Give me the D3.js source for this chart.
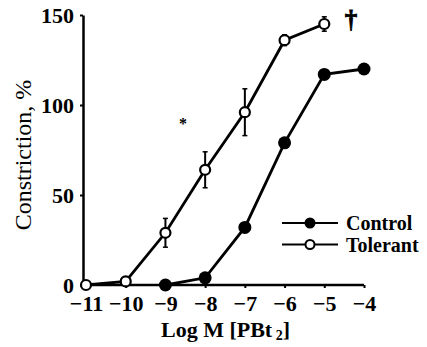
<!DOCTYPE html>
<html>
<head>
<meta charset="utf-8">
<script src="https://cdn.jsdelivr.net/npm/d3@7"></script>
<style>
  body { margin: 0; background: #fff; }
  svg { display: block; }
  text { font-family: "Liberation Serif", "DejaVu Serif", serif; fill: #000; }
</style>
</head>
<body>
<div id="chart"></div>
<script>
const logDoses = [-11, -10, -9, -8, -7, -6, -5, -4];
const controlDoses = [-9, -8, -7, -6, -5, -4];
const controlValues = [0, 4, 32, 79, 117, 120];
const tolerantDoses = [-11, -10, -9, -8, -7, -6, -5];
const tolerantValues = [0, 2, 29, 64, 96, 136, 145];
const tolerantErrors = [0, 0, 8, 10, 13, 3, 4];
const yTicks = [0, 50, 100, 150];

const width = 427, height = 347;

const svg = d3.select('#chart').append('svg')
  .attr('width', width)
  .attr('height', height);

const xScale = d3.scaleLinear().domain([-11, -4]).range([86, 364]);
const yScale = d3.scaleLinear().domain([0, 150]).range([285, 15]);
const axisX = 83;

// axes
const xAxis = d3.axisBottom(xScale)
  .tickValues(logDoses)
  .tickSizeInner(3)
  .tickSizeOuter(0)
  .tickPadding(7)
  .tickFormat(d => '\u2212' + Math.abs(d));

const gx = svg.append('g')
  .attr('transform', `translate(0, ${yScale(0)})`)
  .call(xAxis);
gx.select('.domain').attr('d', `M${axisX},0H${xScale(-4)}`).attr('stroke-width', 2.5);
gx.selectAll('.tick line').attr('stroke-width', 2);
gx.selectAll('.tick text')
  .attr('font-family', '"Liberation Serif", serif')
  .attr('font-size', 22)
  .attr('font-weight', 'bold')
  .attr('fill', '#000');

const yAxis = d3.axisLeft(yScale)
  .tickValues(yTicks)
  .tickSizeInner(3)
  .tickSizeOuter(0)
  .tickPadding(6);

const gy = svg.append('g')
  .attr('transform', `translate(${axisX}, 0)`)
  .call(yAxis);
gy.select('.domain').attr('stroke-width', 2.5);
gy.selectAll('.tick line').attr('stroke-width', 2);
gy.selectAll('.tick text')
  .attr('font-family', '"Liberation Serif", serif')
  .attr('font-size', 22)
  .attr('font-weight', 'bold')
  .attr('fill', '#000');

// axis titles
svg.append('text')
  .attr('transform', `translate(${(axisX + xScale(-4)) / 2 + 2}, 337)`)
  .attr('text-anchor', 'middle')
  .attr('font-size', 22)
  .attr('font-weight', 'bold')
  .html('Log M [PBt<tspan font-size="14" dy="3"> 2</tspan><tspan dy="-3">]</tspan>');

svg.append('text')
  .attr('transform', `translate(31, ${(yScale(0) + yScale(150)) / 2 + 5}) rotate(-90)`)
  .attr('text-anchor', 'middle')
  .attr('font-size', 24)
  .text('Constriction, %');

// lines
const control = controlDoses.map((d, i) => ({ x: d, y: controlValues[i] }));
const tolerant = tolerantDoses.map((d, i) => ({ x: d, y: tolerantValues[i], e: tolerantErrors[i] }));

const line = d3.line()
  .x(d => xScale(d.x))
  .y(d => yScale(d.y));

svg.append('path')
  .datum(control)
  .attr('fill', 'none')
  .attr('stroke', '#000')
  .attr('stroke-width', 2.8)
  .attr('d', line);

svg.append('path')
  .datum(tolerant)
  .attr('fill', 'none')
  .attr('stroke', '#000')
  .attr('stroke-width', 2.8)
  .attr('d', line);

// error bars
const eb = svg.append('g').selectAll('g')
  .data(tolerant.filter(d => d.e > 0))
  .enter().append('g');
eb.append('line')
  .attr('x1', d => xScale(d.x)).attr('x2', d => xScale(d.x))
  .attr('y1', d => yScale(d.y - d.e)).attr('y2', d => yScale(d.y + d.e))
  .attr('stroke', '#000').attr('stroke-width', 2);
eb.selectAll('.cap')
  .data(d => [d.y - d.e, d.y + d.e].map(v => ({ x: d.x, v })))
  .enter().append('line')
  .attr('x1', d => xScale(d.x) - 2.5).attr('x2', d => xScale(d.x) + 2.5)
  .attr('y1', d => yScale(d.v)).attr('y2', d => yScale(d.v))
  .attr('stroke', '#000').attr('stroke-width', 1.5);

// markers
svg.append('g').selectAll('circle')
  .data(control)
  .enter().append('circle')
  .attr('cx', d => xScale(d.x))
  .attr('cy', d => yScale(d.y))
  .attr('r', 6.5)
  .attr('fill', '#000');

svg.append('g').selectAll('circle')
  .data(tolerant)
  .enter().append('circle')
  .attr('cx', d => xScale(d.x))
  .attr('cy', d => yScale(d.y))
  .attr('r', 5)
  .attr('fill', '#fff')
  .attr('stroke', '#000')
  .attr('stroke-width', 2.2);

// significance marks
svg.append('text')
  .attr('x', 183).attr('y', 129)
  .attr('text-anchor', 'middle')
  .attr('font-size', 16)
  .attr('font-weight', 'bold')
  .text('*');

svg.append('text')
  .attr('x', 351).attr('y', 28)
  .attr('text-anchor', 'middle')
  .attr('font-size', 25)
  .attr('font-weight', 'bold')
  .attr('stroke', '#000')
  .attr('stroke-width', 0.8)
  .text('\u2020');

// legend
const legendItems = [
  { label: 'Control', filled: true },
  { label: 'Tolerant', filled: false }
];
const lg = svg.append('g').selectAll('g')
  .data(legendItems)
  .enter().append('g')
  .attr('transform', (d, i) => `translate(282, ${223 + i * 21.5})`);
lg.append('line')
  .attr('x1', 0).attr('x2', 56)
  .attr('stroke', '#000').attr('stroke-width', 2.2);
lg.append('circle')
  .attr('cx', 28)
  .attr('r', d => d.filled ? 5.5 : 4.5)
  .attr('fill', d => d.filled ? '#000' : '#fff')
  .attr('stroke', '#000')
  .attr('stroke-width', d => d.filled ? 0 : 2);
lg.append('text')
  .attr('x', 64).attr('y', 7)
  .attr('font-size', 20)
  .attr('font-weight', 'bold')
  .text(d => d.label);
</script>
</body>
</html>
